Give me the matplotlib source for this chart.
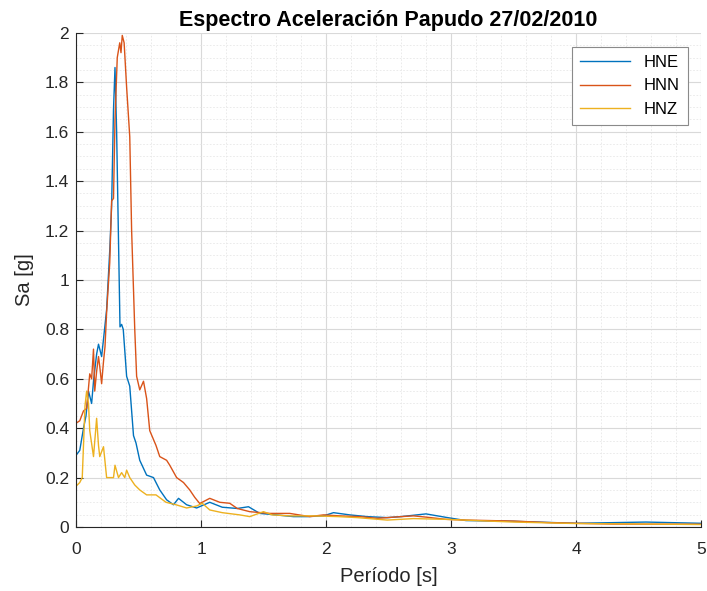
import numpy as np
import matplotlib
matplotlib.use("Agg")
import matplotlib.pyplot as plt
from matplotlib.ticker import MultipleLocator, FuncFormatter

plt.rcParams["font.family"] = ["Liberation Sans", "DejaVu Sans"]

# Response spectra (period [s], Sa [g])
hne_t = [0.0, 0.03, 0.06, 0.08, 0.10, 0.125, 0.14, 0.165, 0.18, 0.205, 0.22, 0.245,
         0.27, 0.285, 0.30, 0.312, 0.325, 0.34, 0.352, 0.365, 0.378, 0.405, 0.43,
         0.46, 0.48, 0.51, 0.565, 0.62, 0.67, 0.725, 0.78, 0.82, 0.885, 0.965,
         1.07, 1.17, 1.29, 1.38, 1.47, 1.6, 1.74, 1.85, 1.98, 2.06, 2.19, 2.33,
         2.49, 2.6, 2.8, 2.96, 3.12, 3.5, 4.0, 4.56, 5.0]
hne_sa = [0.29, 0.31, 0.40, 0.45, 0.55, 0.50, 0.59, 0.70, 0.74, 0.69, 0.76, 0.88,
          1.12, 1.30, 1.69, 1.86, 1.60, 1.16, 0.81, 0.82, 0.80, 0.61, 0.57,
          0.37, 0.34, 0.27, 0.21, 0.20, 0.15, 0.11, 0.09, 0.116, 0.09, 0.077,
          0.10, 0.08, 0.075, 0.082, 0.055, 0.049, 0.042, 0.042, 0.045, 0.058,
          0.049, 0.042, 0.038, 0.042, 0.053, 0.039, 0.026, 0.023, 0.015, 0.02,
          0.015]

hnn_t = [0.0, 0.03, 0.06, 0.085, 0.11, 0.125, 0.14, 0.15, 0.165, 0.18, 0.19, 0.205,
         0.22, 0.232, 0.245, 0.27, 0.285, 0.30, 0.312, 0.33, 0.35, 0.36, 0.37,
         0.385, 0.405, 0.43, 0.445, 0.47, 0.485, 0.51, 0.54, 0.565, 0.59, 0.615,
         0.64, 0.67, 0.725, 0.75, 0.805, 0.86, 0.91, 0.95, 0.99, 1.07, 1.15, 1.23,
         1.29, 1.39, 1.55, 1.71, 1.87, 1.98, 2.11, 2.27, 2.41, 2.6, 2.7, 2.8,
         2.96, 3.12, 3.5, 3.77, 4.0, 4.3, 5.0]
hnn_sa = [0.42, 0.43, 0.47, 0.48, 0.62, 0.60, 0.72, 0.55, 0.63, 0.69, 0.65, 0.58,
          0.67, 0.73, 0.87, 1.07, 1.32, 1.33, 1.65, 1.90, 1.96, 1.92, 1.99,
          1.96, 1.78, 1.58, 1.20, 0.80, 0.61, 0.555, 0.59, 0.52, 0.39, 0.36,
          0.33, 0.285, 0.27, 0.25, 0.20, 0.18, 0.15, 0.12, 0.095, 0.116, 0.10,
          0.096, 0.075, 0.062, 0.055, 0.055, 0.042, 0.049, 0.045, 0.042, 0.035,
          0.042, 0.045, 0.04, 0.031, 0.028, 0.024, 0.018, 0.015, 0.012, 0.011]

hnz_t = [0.0, 0.03, 0.05, 0.072, 0.085, 0.10, 0.11, 0.14, 0.165, 0.18, 0.19, 0.22,
         0.245, 0.27, 0.30, 0.312, 0.34, 0.365, 0.39, 0.405, 0.43, 0.47, 0.51,
         0.565, 0.64, 0.72, 0.80, 0.885, 0.965, 1.01, 1.07, 1.17, 1.31, 1.39,
         1.5, 1.57, 1.71, 1.9, 2.1, 2.25, 2.49, 2.7, 2.96, 3.2, 3.5, 4.0, 4.56,
         5.0]
hnz_sa = [0.165, 0.18, 0.20, 0.49, 0.55, 0.50, 0.39, 0.285, 0.44, 0.33, 0.285,
          0.325, 0.20, 0.20, 0.20, 0.25, 0.20, 0.22, 0.20, 0.23, 0.20, 0.17,
          0.15, 0.13, 0.13, 0.10, 0.09, 0.077, 0.085, 0.096, 0.069, 0.058,
          0.049, 0.042, 0.062, 0.049, 0.045, 0.045, 0.042, 0.038, 0.028, 0.034,
          0.031, 0.026, 0.02, 0.014, 0.012, 0.01]

series = [("HNE", hne_t, hne_sa, "#0072BD"),
          ("HNN", hnn_t, hnn_sa, "#D95319"),
          ("HNZ", hnz_t, hnz_sa, "#EDB120")]

fig = plt.figure(figsize=(7.07, 5.91), dpi=100)
ax = fig.add_axes([0.1075, 0.1083, 0.884, 0.836])

for name, t, sa, col in series:
    ax.plot(t, sa, color=col, lw=1.0, label=name)

ax.set_xlim(0, 5)
ax.set_ylim(0, 2)
ax.xaxis.set_major_locator(MultipleLocator(1))
ax.xaxis.set_minor_locator(MultipleLocator(0.2))
ax.yaxis.set_major_locator(MultipleLocator(0.2))
ax.yaxis.set_minor_locator(MultipleLocator(0.05))
ax.yaxis.set_major_formatter(FuncFormatter(lambda v, p: f"{v:g}"))

ax.grid(which="major", color="#d9d9d9", lw=0.8)
ax.grid(which="minor", color="#e8e8e8", lw=0.6, ls=(0, (2, 2)))
ax.set_axisbelow(True)

for side in ("top", "right"):
    ax.spines[side].set_visible(False)
for side in ("left", "bottom"):
    ax.spines[side].set_color("#262626")
ax.tick_params(which="major", direction="in", length=5, colors="#262626",
               labelsize=12.5)
ax.tick_params(axis="x", which="major", pad=11)
ax.tick_params(axis="y", which="major", pad=5)
ax.tick_params(which="minor", length=0)

ax.set_xlabel("Período [s]", fontsize=14.5, color="#262626", labelpad=7)
ax.set_ylabel("Sa [g]", fontsize=14.5, color="#262626", labelpad=8)
ax.set_title("Espectro Aceleración Papudo 27/02/2010", fontsize=15.5,
             fontweight="bold", pad=5)

leg = ax.legend(loc="upper right", bbox_to_anchor=(0.979, 0.972), fontsize=12,
                fancybox=False, edgecolor="#8a8a8a", framealpha=1,
                handlelength=3.0, borderpad=0.5, labelspacing=0.5,
                borderaxespad=0)
leg.get_frame().set_linewidth(0.8)

fig.savefig("out.png", dpi=100)
